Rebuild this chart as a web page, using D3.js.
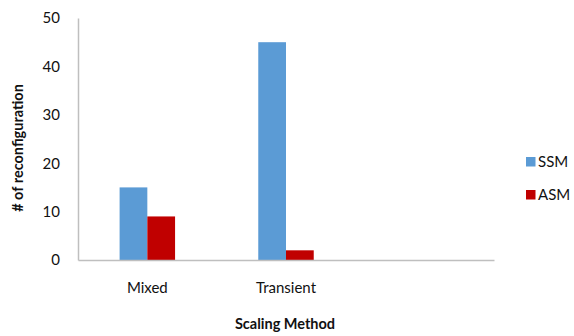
<!DOCTYPE html>
<html>
<head>
<meta charset="utf-8">
<script src="https://cdn.jsdelivr.net/npm/d3@7"></script>
<style>
  html, body { margin: 0; padding: 0; background: #fff; }
  svg { display: block; font-family: Lato, "Open Sans", sans-serif; }
</style>
</head>
<body>
<svg id="chart" width="574" height="336"></svg>
<script>
// Reconfiguration counts per scaling method
const categories = ["Mixed", "Transient", ""];
const seriesNames = ["SSM", "ASM"];
const ssmValues = [15, 45, null];
const asmValues = [9, 2, null];
const yTicks = [0, 10, 20, 30, 40, 50];
const colors = ["#5B9BD5", "#C00000"];

const svg = d3.select("#chart");
const margin = { left: 78, right: 80, top: 18, bottom: 76 };
const plotW = 494 - margin.left;
const plotH = 260 - margin.top;

const g = svg.append("g").attr("transform", `translate(${margin.left},${margin.top})`);

const x = d3.scaleBand().domain(categories.map((c, i) => i)).range([0, plotW]).paddingInner(0).paddingOuter(0);
const inner = d3.scaleBand().domain(seriesNames).range([0, x.bandwidth()]).paddingInner(0).paddingOuter(1.5);
const y = d3.scaleLinear().domain([0, 50]).range([plotH, 0]);

const series = [ssmValues, asmValues];
seriesNames.forEach((name, si) => {
  g.selectAll(null)
    .data(series[si].map((v, i) => ({ v, i })).filter(d => d.v != null))
    .enter().append("rect")
    .attr("x", d => x(d.i) + inner(name))
    .attr("width", inner.bandwidth())
    .attr("y", d => y(d.v))
    .attr("height", d => plotH - y(d.v))
    .attr("fill", colors[si]);
});

// y axis: line and labels, no tick marks
const yAxis = g.append("g").call(d3.axisLeft(y).tickValues(yTicks).tickSize(0).tickPadding(18));
yAxis.select(".domain").attr("stroke", "#BFBFBF").attr("stroke-width", 1.5);
yAxis.selectAll("text").attr("font-size", 15).attr("fill", "#111").attr("font-family", "Lato, sans-serif");

// x axis
const xAxis = g.append("g").attr("transform", `translate(0,${plotH})`)
  .call(d3.axisBottom(x).tickFormat(i => categories[i]).tickSize(0).tickPadding(22));
xAxis.select(".domain").attr("stroke", "#BFBFBF").attr("stroke-width", 1.5);
xAxis.selectAll("text").attr("font-size", 15).attr("fill", "#111").attr("font-family", "Lato, sans-serif");

// axis titles
svg.append("text")
  .attr("x", 285).attr("y", 329)
  .attr("text-anchor", "middle")
  .attr("font-size", 14.5).attr("font-weight", "bold").attr("fill", "#111")
  .text("Scaling Method");

svg.append("text")
  .attr("transform", "translate(23,148) rotate(-90)")
  .attr("text-anchor", "middle")
  .attr("font-size", 14.5).attr("font-weight", "bold").attr("fill", "#111")
  .text("# of reconfiguration");

// legend
const legend = svg.append("g").attr("transform", "translate(526,157)");
seriesNames.forEach((name, i) => {
  const row = legend.append("g").attr("transform", `translate(0,${i * 33})`);
  row.append("rect").attr("width", 9.5).attr("height", 9.5).attr("fill", colors[i]);
  row.append("text").attr("x", 12).attr("y", 9.5).attr("font-size", 15).attr("fill", "#111").text(name);
});
</script>
</body>
</html>
